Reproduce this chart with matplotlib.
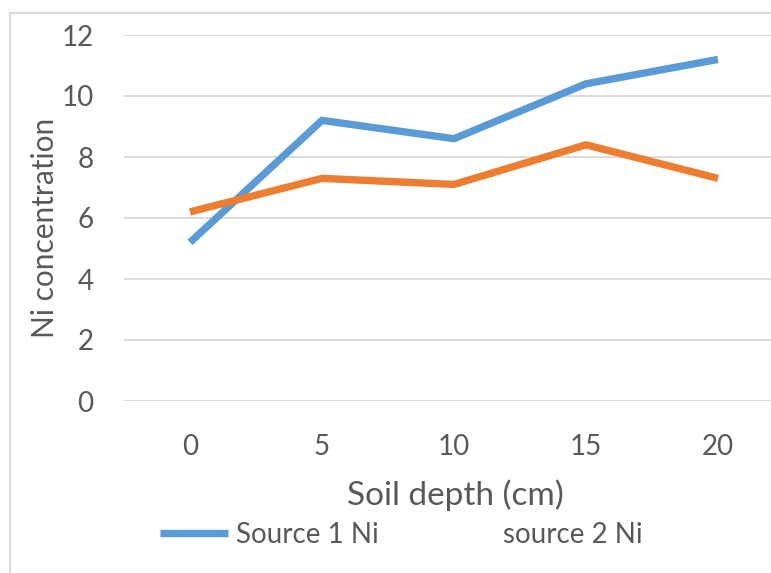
import matplotlib
matplotlib.use("Agg")
import matplotlib.pyplot as plt
from matplotlib.lines import Line2D
from matplotlib.patches import Rectangle

# Data
depths = ["0", "5", "10", "15", "20"]
source1_ni = [5.2, 9.2, 8.6, 10.4, 11.2]
source2_ni = [6.2, 7.3, 7.1, 8.4, 7.3]
series_labels = ["Source 1 Ni", "source 2 Ni"]
y_ticks = [0, 2, 4, 6, 8, 10, 12]

BLUE = "#5b9bd5"
ORANGE = "#ed7d31"
TEXT = "#595959"
GRID = "#d9d9d9"

plt.rcParams["font.family"] = ["Lato", "DejaVu Sans"]

W, H = 771, 573
fig = plt.figure(figsize=(W / 100, H / 100), dpi=100)

# chart frame
fig.patches.append(Rectangle((10 / W, -0.1), 1.2, 1 - 13 / H + 0.1,
                             transform=fig.transFigure, fill=False,
                             edgecolor=GRID, linewidth=1.5))

left, right = 124 / W, 784 / W
bottom, top = 1 - 401 / H, 1 - 35 / H
ax = fig.add_axes([left, bottom, right - left, top - bottom])

x = range(len(depths))
l1, = ax.plot(x, source1_ni, color=BLUE, linewidth=5.3, solid_capstyle="butt",
              solid_joinstyle="miter", zorder=3)
l2, = ax.plot(x, source2_ni, color=ORANGE, linewidth=5.3, solid_capstyle="butt",
              solid_joinstyle="miter", zorder=3)

ax.set_xlim(-0.5, len(depths) - 0.5)
ax.set_ylim(0, 12)
ax.set_yticks(y_ticks)
ax.set_xticks(list(x))
ax.set_xticklabels(depths)
ax.yaxis.grid(True, color=GRID, linewidth=1.3)
ax.set_axisbelow(True)
for s in ax.spines.values():
    s.set_visible(False)
ax.tick_params(length=0, labelsize=20, labelcolor=TEXT)
ax.tick_params(axis="y", pad=22)
ax.tick_params(axis="x", pad=24)

ax.set_xlabel("Soil depth (cm)", fontsize=24, color=TEXT)
ax.xaxis.label.set_verticalalignment("center")
ax.xaxis.set_label_coords((455 - 124) / 660, -(495 - 401) / 366)
fig.text(45 / W, 1 - 228 / H, "Ni concentration", rotation=90,
         ha="center", va="center", fontsize=21.5, color=TEXT)

handles = [l1, Line2D([], [], color="none", linewidth=5)]
fig.legend(handles, series_labels, loc="center left",
           bbox_to_anchor=(160 / W, 1 - 535 / H), ncol=2, frameon=False,
           fontsize=20, labelcolor=TEXT, handlelength=2.45, handletextpad=0.29,
           columnspacing=1.73, borderpad=0, borderaxespad=0)

fig.savefig("out.png", dpi=100)
